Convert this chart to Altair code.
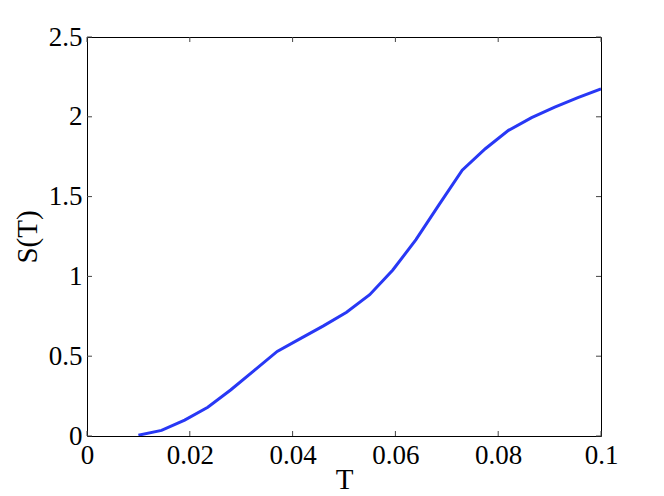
import altair as alt
import pandas as pd

T = [0.01, 0.0145, 0.019, 0.0235, 0.028, 0.0325, 0.037, 0.0415, 0.046, 0.0505,
     0.055, 0.0595, 0.064, 0.0685, 0.073, 0.0775, 0.082, 0.0865, 0.091, 0.0955, 0.1]
S = [0.005, 0.035, 0.10, 0.18, 0.29, 0.41, 0.53, 0.61, 0.69, 0.775,
     0.885, 1.04, 1.23, 1.45, 1.665, 1.80, 1.915, 1.995, 2.06, 2.12, 2.175]
x_ticks = [0, 0.02, 0.04, 0.06, 0.08, 0.1]
y_ticks = [0, 0.5, 1, 1.5, 2, 2.5]

W, H = 514, 399
FONT = "Liberation Serif"

df = pd.DataFrame({"T": T, "S": S})
xt = pd.DataFrame({"T": x_ticks})
yt = pd.DataFrame({"S": y_ticks})

xscale = alt.Scale(domain=[0, 0.1], nice=False, zero=False)
yscale = alt.Scale(domain=[0, 2.5], nice=False, zero=False)
xaxis = alt.Axis(values=x_ticks, format="~g", tickSize=0, domain=False, grid=False,
                 labelFont=FONT, labelFontSize=27, labelColor="black", labelPadding=6,
                 titleFont=FONT, titleFontSize=29, titleFontWeight="normal", titleColor="black",
                 titlePadding=-3, labelFlush=False)
yaxis = alt.Axis(values=y_ticks, format="~g", tickSize=0, domain=False, grid=False,
                 labelFont=FONT, labelFontSize=27, labelColor="black", labelPadding=5,
                 titleFont=FONT, titleFontSize=29, titleFontWeight="normal", titleColor="black",
                 titlePadding=6, labelFlush=False)

X = alt.X("T:Q", scale=xscale, axis=xaxis, title="T")
Y = alt.Y("S:Q", scale=yscale, axis=yaxis, title="S(T)")

line = alt.Chart(df).mark_line(color="#2838f5", strokeWidth=3, clip=True).encode(x=X, y=Y)

tick_color = "#444444"
xb = alt.Chart(xt).mark_rule(color=tick_color, strokeWidth=1).encode(
    x=X, y=alt.value(H), y2=alt.value(H - 5))
xtp = alt.Chart(xt).mark_rule(color=tick_color, strokeWidth=1).encode(
    x=X, y=alt.value(0), y2=alt.value(5))
yl = alt.Chart(yt).mark_rule(color=tick_color, strokeWidth=1).encode(
    y=Y, x=alt.value(0), x2=alt.value(5))
yr = alt.Chart(yt).mark_rule(color=tick_color, strokeWidth=1).encode(
    y=Y, x=alt.value(W), x2=alt.value(W - 5))

chart = alt.layer(xb, xtp, yl, yr, line).properties(
    width=W, height=H,
    autosize=alt.AutoSizeParams(type="none"),
    padding={"left": 79, "top": 29, "right": 50, "bottom": 60},
    background="white",
).configure_view(stroke="black", strokeWidth=1)

chart.save("out.html", embed_options={"renderer": "svg", "actions": False})
